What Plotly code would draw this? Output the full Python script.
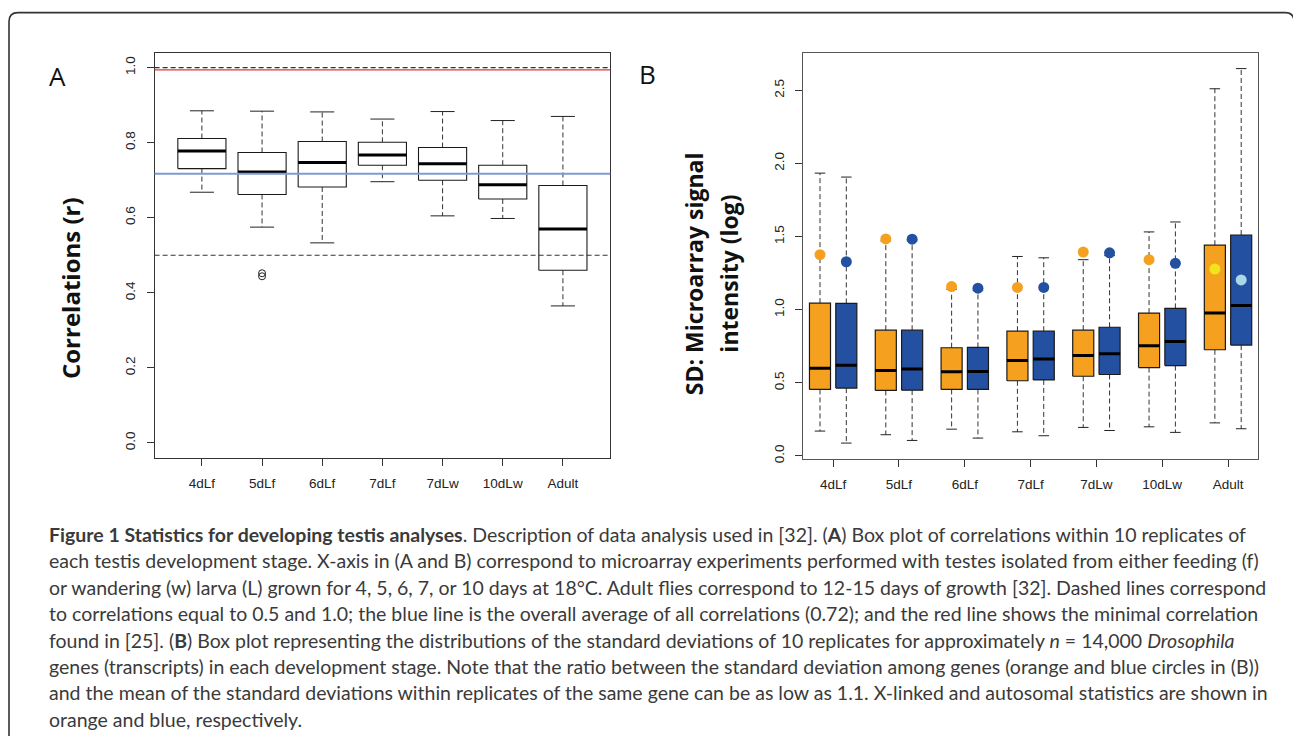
import plotly.graph_objects as go

W, H = 1293, 736

stages = ["4dLf", "5dLf", "6dLf", "7dLf", "7dLw", "10dLw", "Adult"]

# ---------------- Panel A: correlations within replicates ----------------
a_low = [0.668, 0.575, 0.533, 0.696, 0.605, 0.598, 0.365]
a_q1 = [0.731, 0.662, 0.682, 0.740, 0.700, 0.650, 0.460]
a_med = [0.778, 0.722, 0.747, 0.767, 0.744, 0.688, 0.570]
a_q3 = [0.811, 0.774, 0.803, 0.801, 0.787, 0.740, 0.686]
a_high = [0.885, 0.884, 0.882, 0.863, 0.883, 0.859, 0.870]
a_out_stage = ["5dLf", "5dLf"]
a_out_val = [0.452, 0.444]
a_mean_all = 0.717
a_min_ref = 0.994
a_dashed_refs = [0.5, 1.0]
a_yticks = [0.0, 0.2, 0.4, 0.6, 0.8, 1.0]

# ---------------- Panel B: SD of replicates (X-linked orange, autosomal blue) ----------------
bx_low = [0.170, 0.145, 0.183, 0.165, 0.195, 0.199, 0.226]
bx_q1 = [0.455, 0.448, 0.455, 0.514, 0.545, 0.604, 0.726]
bx_med = [0.600, 0.584, 0.575, 0.652, 0.686, 0.753, 0.977]
bx_q3 = [1.045, 0.860, 0.740, 0.853, 0.860, 0.977, 1.441]
bx_high = [1.934, 1.470, 1.140, 1.364, 1.342, 1.532, 2.511]
bx_circle = [1.376, 1.484, 1.158, 1.152, 1.394, 1.342, 1.278]

ba_low = [0.088, 0.106, 0.122, 0.138, 0.174, 0.161, 0.186]
ba_q1 = [0.464, 0.450, 0.455, 0.520, 0.557, 0.618, 0.758]
ba_med = [0.620, 0.595, 0.577, 0.663, 0.699, 0.783, 1.029]
ba_q3 = [1.043, 0.860, 0.742, 0.853, 0.880, 1.009, 1.511]
ba_high = [1.907, 1.470, 1.130, 1.355, 1.370, 1.600, 2.649]
ba_circle = [1.328, 1.482, 1.147, 1.152, 1.389, 1.317, 1.204]
b_yticks = [0.0, 0.5, 1.0, 1.5, 2.0, 2.5]

# ---------------- styles ----------------
ORANGE = "#F5A01E"
BLUE = "#2450A2"
ORANGE_PT = ["#F5A01E"] * 6 + ["#F2E41A"]
BLUE_PT = ["#2450A2"] * 6 + ["#A9D9E6"]
INK = "#222222"
TICKFONT = dict(family="Liberation Sans, Arial, sans-serif", size=13.5, color=INK)


def px2x(px):
    return px / W


def px2y(py):
    return 1 - py / H


def box_paths(pos, lo, hi, hw):
    xs, ys = [], []
    for p, a, b in zip(pos, lo, hi):
        xs += [p - hw, p + hw, p + hw, p - hw, p - hw, None]
        ys += [a, a, b, b, a, None]
    return xs, ys


def vsegs(pos, y0, y1):
    xs, ys = [], []
    for p, a, b in zip(pos, y0, y1):
        xs += [p, p, None]
        ys += [a, b, None]
    return xs, ys


def hsegs(pos, yv, hw):
    xs, ys = [], []
    for p, v in zip(pos, yv):
        xs += [p - hw, p + hw, None]
        ys += [v, v, None]
    return xs, ys


fig = go.Figure()


def add_boxplot(pos, low, q1, med, q3, high, fill, xa, ya, hw=0.4, line_w=1.1):
    wx1, wy1 = vsegs(pos, q3, high)
    wx2, wy2 = vsegs(pos, q1, low)
    fig.add_trace(go.Scatter(x=wx1 + wx2, y=wy1 + wy2, mode="lines", xaxis=xa, yaxis=ya,
                             line=dict(color="#333333", width=1, dash="5px,3px"),
                             hoverinfo="skip", showlegend=False))
    sx1, sy1 = hsegs(pos, high, hw / 2)
    sx2, sy2 = hsegs(pos, low, hw / 2)
    fig.add_trace(go.Scatter(x=sx1 + sx2, y=sy1 + sy2, mode="lines", xaxis=xa, yaxis=ya,
                             line=dict(color="#222222", width=1),
                             hoverinfo="skip", showlegend=False))
    bx, by = box_paths(pos, q1, q3, hw)
    fig.add_trace(go.Scatter(x=bx, y=by, mode="lines", fill="toself", fillcolor=fill,
                             xaxis=xa, yaxis=ya, line=dict(color="#1a1a1a", width=line_w),
                             hoverinfo="skip", showlegend=False))
    mx, my = hsegs(pos, med, hw)
    fig.add_trace(go.Scatter(x=mx, y=my, mode="lines", xaxis=xa, yaxis=ya,
                             line=dict(color="#000000", width=3),
                             hoverinfo="skip", showlegend=False))


# ---- Panel A ----
pos_a = [i + 1 for i in range(len(stages))]
add_boxplot(pos_a, a_low, a_q1, a_med, a_q3, a_high, "white", "x", "y")
out_pos = [pos_a[stages.index(s)] for s in a_out_stage]
fig.add_trace(go.Scatter(x=out_pos, y=a_out_val, mode="markers", xaxis="x", yaxis="y",
                         marker=dict(symbol="circle-open", size=7, color="#222222",
                                     line=dict(width=1, color="#222222")),
                         hoverinfo="skip", showlegend=False))

shapes = []
for v in a_dashed_refs:
    shapes.append(dict(type="line", xref="x domain", yref="y", x0=0, x1=1, y0=v, y1=v,
                       line=dict(color="#333333", width=1.2, dash="5px,3px"), layer="above"))
shapes.append(dict(type="line", xref="x domain", yref="y", x0=0, x1=1, y0=a_min_ref, y1=a_min_ref,
                   line=dict(color="#E8372F", width=1.3), layer="above"))
shapes.append(dict(type="line", xref="x domain", yref="y", x0=0, x1=1, y0=a_mean_all, y1=a_mean_all,
                   line=dict(color="#7E9BD2", width=2), layer="above"))

# ---- Panel B ----
pos_bx = [2.5 * i + 1 for i in range(len(stages))]
pos_ba = [2.5 * i + 2 for i in range(len(stages))]
pos_bt = [2.5 * i + 1.5 for i in range(len(stages))]
add_boxplot(pos_bx, bx_low, bx_q1, bx_med, bx_q3, bx_high, ORANGE, "x2", "y2", line_w=1.2)
add_boxplot(pos_ba, ba_low, ba_q1, ba_med, ba_q3, ba_high, BLUE, "x2", "y2", line_w=1.2)
fig.add_trace(go.Scatter(x=pos_bx, y=bx_circle, mode="markers", xaxis="x2", yaxis="y2",
                         marker=dict(size=11, color=ORANGE_PT, line=dict(width=0)),
                         hoverinfo="skip", showlegend=False))
fig.add_trace(go.Scatter(x=pos_ba, y=ba_circle, mode="markers", xaxis="x2", yaxis="y2",
                         marker=dict(size=11, color=BLUE_PT, line=dict(width=0)),
                         hoverinfo="skip", showlegend=False))

# outer rounded border of the figure panel
l, t, r, b, rad = 9, 12.7, 1294, 745, 9
border = (f"M {px2x(l)} {px2y(b)} L {px2x(l)} {px2y(t + rad)} "
          f"Q {px2x(l)} {px2y(t)} {px2x(l + rad)} {px2y(t)} "
          f"L {px2x(r - rad)} {px2y(t)} Q {px2x(r)} {px2y(t)} {px2x(r)} {px2y(t + rad)} "
          f"L {px2x(r)} {px2y(b)}")
shapes.append(dict(type="path", xref="paper", yref="paper", path=border,
                   line=dict(color="#333333", width=1.6)))

axis_common = dict(showgrid=False, zeroline=False, showline=True, mirror=True,
                   ticks="outside", ticklen=7, tickwidth=1, tickcolor="#333333",
                   linecolor="#333333", linewidth=1.2, tickfont=TICKFONT)

layout = dict(
    width=W, height=H, margin=dict(l=0, r=0, t=0, b=0),
    paper_bgcolor="white", plot_bgcolor="white", showlegend=False, hovermode=False,
    xaxis=dict(domain=[px2x(154.6), px2x(610.2)], range=[0.214, 7.786], anchor="y",
               tickmode="array", tickvals=pos_a, ticktext=stages, ticklabelstandoff=6,
               **axis_common),
    yaxis=dict(domain=[px2y(461), px2y(53)], range=[-0.04, 1.04], anchor="x",
               tickmode="array", tickvals=a_yticks, ticktext=[f"{v:.1f}" for v in a_yticks],
               tickangle=-90, ticklabelstandoff=6, **axis_common),
    xaxis2=dict(domain=[px2x(803.3), px2x(1258.3)], range=[0.366, 17.65], anchor="y2",
                tickmode="array", tickvals=pos_bt, ticktext=stages, ticklabelstandoff=6,
                **{**axis_common, "linecolor": "#555555"}),
    yaxis2=dict(domain=[px2y(461.7), px2y(53.3)], range=[-0.018, 2.756], anchor="x2",
                tickmode="array", tickvals=b_yticks, ticktext=[f"{v:.1f}" for v in b_yticks],
                tickangle=-90, ticklabelstandoff=6, **{**axis_common, "linecolor": "#555555"}),
    shapes=shapes,
)
fig.update_layout(**layout)

ann = []
ann.append(dict(text="<b>Correlations (r)</b>", x=px2x(70), y=px2y(290), xref="paper", yref="paper",
                textangle=-90, showarrow=False,
                font=dict(family="Open Sans, sans-serif", size=24, color="#111111"),
                xanchor="center", yanchor="middle"))
BTITLE = dict(family="Open Sans, sans-serif", size=23, color="#111111")
ann.append(dict(text="<b>SD: Microarray signal</b>", x=px2x(694), y=px2y(276), xref="paper",
                yref="paper", textangle=-90, showarrow=False, font=BTITLE,
                xanchor="center", yanchor="middle"))
ann.append(dict(text="<b>intensity (log)</b>", x=px2x(729.5), y=px2y(276), xref="paper",
                yref="paper", textangle=-90, showarrow=False, font=BTITLE,
                xanchor="center", yanchor="middle"))
PANELFONT = dict(family="Open Sans, sans-serif", size=26, color="#111111")
ann.append(dict(text="A", x=px2x(57.5), y=px2y(77), xref="paper", yref="paper", showarrow=False,
                font=PANELFONT, xanchor="center", yanchor="middle"))
ann.append(dict(text="B", x=px2x(647), y=px2y(75), xref="paper", yref="paper", showarrow=False,
                font=PANELFONT, xanchor="center", yanchor="middle"))

caption_lines = [
    "<b>Figure 1 Statistics for developing testis analyses</b>. Description of data analysis used in [32]. (<b>A</b>) Box plot of correlations within 10 replicates of",
    "each testis development stage. X-axis in (A and B) correspond to microarray experiments performed with testes isolated from either feeding (f)",
    "or wandering (w) larva (L) grown for 4, 5, 6, 7, or 10 days at 18°C. Adult flies correspond to 12-15 days of growth [32]. Dashed lines correspond",
    "to correlations equal to 0.5 and 1.0; the blue line is the overall average of all correlations (0.72); and the red line shows the minimal correlation",
    "found in [25]. (<b>B</b>) Box plot representing the distributions of the standard deviations of 10 replicates for approximately <i>n</i> = 14,000 <i>Drosophila</i>",
    "genes (transcripts) in each development stage. Note that the ratio between the standard deviation among genes (orange and blue circles in (B))",
    "and the mean of the standard deviations within replicates of the same gene can be as low as 1.1. X-linked and autosomal statistics are shown in",
    "orange and blue, respectively.",
]
CAPFONT = dict(family="Lato, sans-serif", size=19.5, color="#3a3a3a")
for i, line in enumerate(caption_lines):
    ann.append(dict(text=line, x=px2x(47), y=px2y(538 + 26.6 * i), xref="paper", yref="paper",
                    showarrow=False, font=CAPFONT, xanchor="left", yanchor="middle", align="left"))

fig.update_layout(annotations=ann)
fig.write_html("out.html")
